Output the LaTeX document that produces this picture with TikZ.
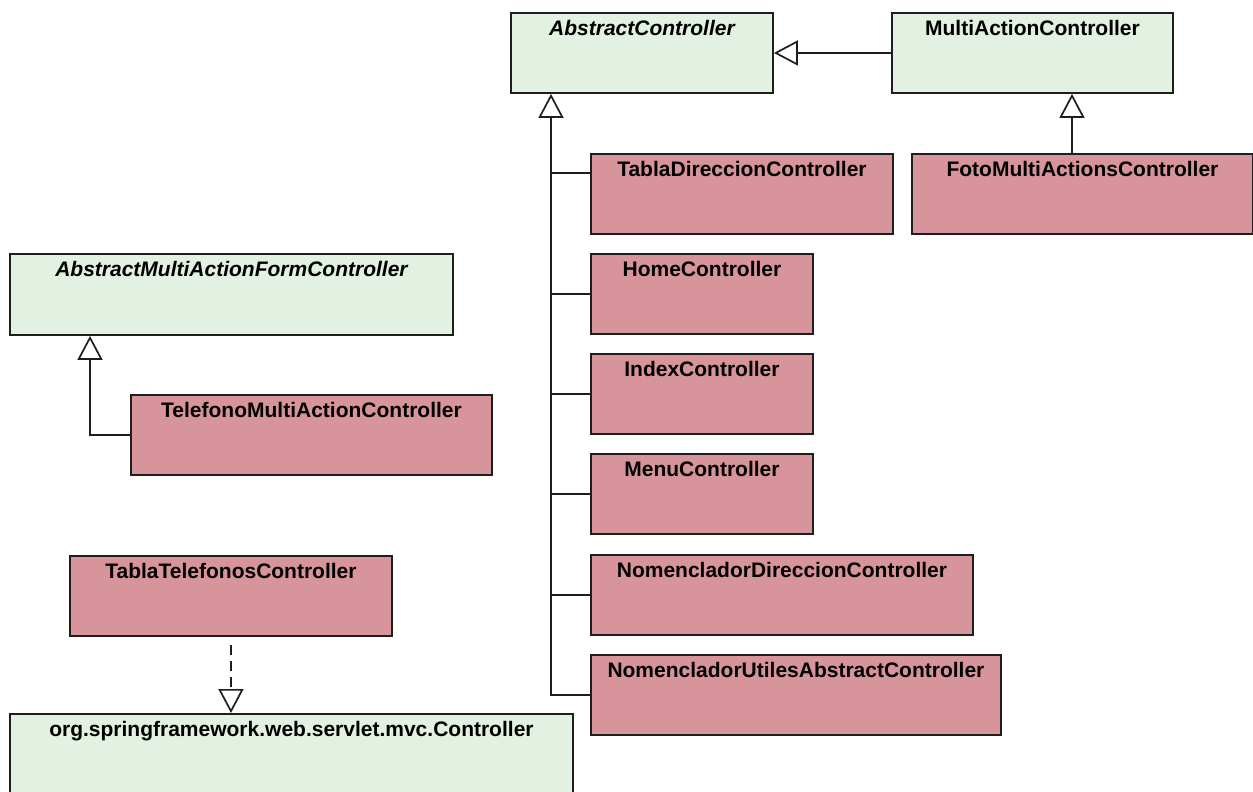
\documentclass[tikz,border=0pt]{standalone}
\usepackage{fontspec}
\setmainfont{Liberation Sans}
\usetikzlibrary{arrows.meta,calc}
\definecolor{ifacefill}{HTML}{E3F1E3}
\definecolor{implfill}{HTML}{D8949B}
\definecolor{edgec}{HTML}{1E1E1E}
\begin{document}
\begin{tikzpicture}[x=1pt,y=-1pt,
  cls/.style={draw=edgec, line width=1.9pt, anchor=north west, inner sep=0pt, minimum height=80pt},
  abstractcls/.style={cls, fill=ifacefill},
  concrete/.style={cls, fill=implfill},
  title/.style={label={[font=\fontsize{21}{24}\selectfont\bfseries, inner sep=0pt, anchor=north, yshift=-8pt]north:#1}},
  ititle/.style={label={[font=\fontsize{21}{24}\selectfont\bfseries\itshape, inner sep=0pt, anchor=north, yshift=-8pt]north:#1}},
  link/.style={draw=edgec, line width=1.7pt},
  gen/.style={link, -{Triangle[length=24pt, width=25pt, fill=white]}},
  realize/.style={gen, dash pattern=on 10pt off 6pt}
]
\useasboundingbox (0,0) rectangle (1253,792);
\fill[white] (0,0) rectangle (1253,792);
\clip (0,0) rectangle (1253,792);

% Class boxes
\node[abstractcls, minimum width=262pt, ititle=AbstractController] (ac) at (510,12) {};
\node[abstractcls, minimum width=281pt, title=MultiActionController] (mac) at (891,12) {};
\node[concrete, minimum width=341pt, title=FotoMultiActionsController] (foto) at (911,153) {};
\node[concrete, minimum width=302pt, title=TablaDireccionController] (tdc) at (590,153) {};
\node[concrete, minimum width=222pt, title=HomeController] (home) at (590,253) {};
\node[concrete, minimum width=222pt, title=IndexController] (index) at (590,353) {};
\node[concrete, minimum width=222pt, title=MenuController] (menu) at (590,453) {};
\node[concrete, minimum width=382pt, title=NomencladorDireccionController] (ndc) at (590,554) {};
\node[concrete, minimum width=410pt, title=NomencladorUtilesAbstractController] (nuac) at (590,654) {};
\node[abstractcls, minimum width=443pt, minimum height=81pt, ititle=AbstractMultiActionFormController] (amafc) at (9,253) {};
\node[concrete, minimum width=361pt, title=TelefonoMultiActionController] (tmac) at (130,394) {};
\node[concrete, minimum width=322pt, title=TablaTelefonosController] (ttc) at (69,555) {};
\node[abstractcls, minimum width=563pt, minimum height=110pt, title=org.springframework.web.servlet.mvc.Controller] (ctrl) at (9,713) {};

% Generalisation connectors
\draw[gen] (mac.west) -- (ac.east |- mac.west);
\coordinate (fotoup) at ($(foto.north west)+(161,0)$);
\draw[gen] (fotoup) -- (fotoup |- mac.south);

\coordinate (trunk) at ($(ac.south west)+(41,0)$);
\draw[link] ([yshift=-20pt]tdc.north west) -- ++(-39,0);
\draw[link] (home.west) -- (home.west -| trunk);
\draw[link] (index.west) -- (index.west -| trunk);
\draw[link] (menu.west) -- (menu.west -| trunk);
\draw[link] (ndc.west) -- (ndc.west -| trunk);
\draw[gen] (nuac.west) -| (trunk);

\coordinate (amafcup) at ($(amafc.south west)+(81,0)$);
\draw[gen] (tmac.west) -| (amafcup);

% Interface realisation
\draw[realize] ([yshift=-8pt]ttc.south) -- (ttc.south |- ctrl.north);
\end{tikzpicture}
\end{document}
